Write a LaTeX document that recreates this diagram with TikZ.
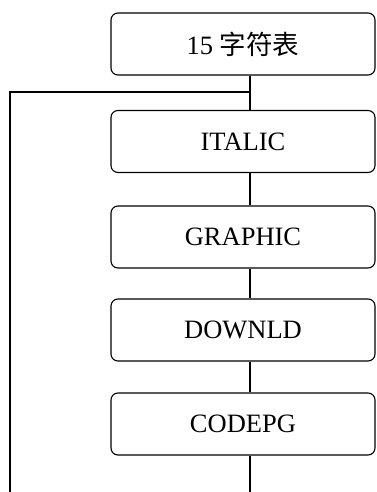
\documentclass[tikz,border=0pt]{standalone}
\usepackage{fontspec}
\setmainfont{Liberation Serif}
\newfontfamily\cjk{Noto Sans CJK SC}
\usetikzlibrary{calc}

\begin{document}
\begin{tikzpicture}[x=1pt, y=-1pt, line width=1.1pt,
    box/.style={draw, rounded corners=7pt, minimum width=264pt, minimum height=62pt,
                inner sep=0pt, font=\fontsize{26.5}{30}\selectfont}]
    \useasboundingbox (0,0) rectangle (376,492);
    % boxes
    \node[box] (tab) at (243,44) {15 {\cjk 字符表}};
    \node[box] (ital) at (243,141.5) {ITALIC};
    \node[box] (graph) at (243,237) {GRAPHIC};
    \node[box] (down) at (243,330) {DOWNLD};
    \node[box] (code) at (243,424) {CODEPG};
    % junctions
    \coordinate (j) at (250,92);
    \coordinate (lft) at (10,92);
    \coordinate (lbot) at (10,492);
    \coordinate (cbot) at (250,492);
    \draw (tab.south -| j) -- (j) -- (ital.north -| j);
    \draw (j) -- (lft) -- (lbot);
    \draw (ital.south -| j) -- (graph.north -| j);
    \draw (graph.south -| j) -- (down.north -| j);
    \draw (down.south -| j) -- (code.north -| j);
    \draw (code.south -| j) -- (cbot);
\end{tikzpicture}
\end{document}
